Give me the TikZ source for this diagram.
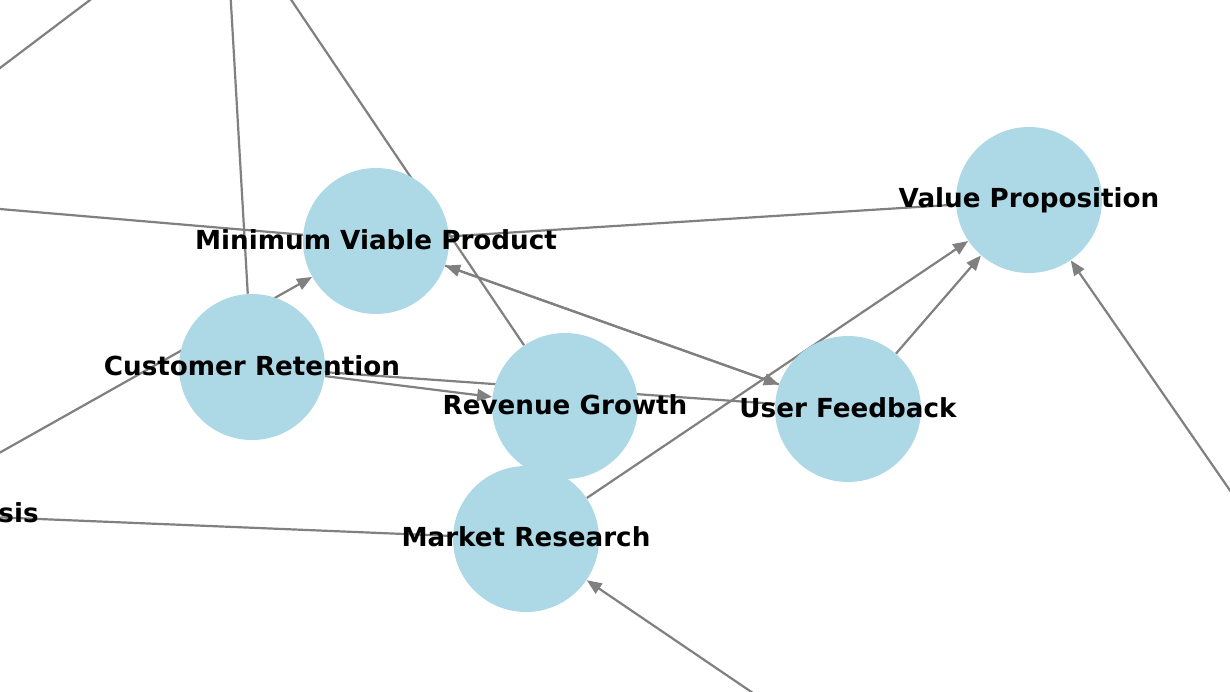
\documentclass[tikz,border=0pt]{standalone}
\usepackage{fontspec}
\setmainfont{DejaVu Sans}
\usetikzlibrary{arrows.meta}
\pgfdeclarelayer{bg}
\pgfdeclarelayer{edges}
\pgfsetlayers{bg,edges,main}
\definecolor{nodeblue}{HTML}{ADD8E6}
\definecolor{edgegray}{HTML}{808080}
\begin{document}
\begin{tikzpicture}[x=0.5pt,y=-0.5pt,
  vertex/.style={circle,fill=nodeblue,draw=none,minimum size=73pt,inner sep=0pt},
  lbl/.style={font=\bfseries\fontsize{13.1pt}{15pt}\selectfont,text=black,inner sep=0pt},
  edge/.style={draw=edgegray,line width=1.1pt},
  arr/.style={edge,-{Triangle[length=7.5pt,width=6pt]}}
]
\path[use as bounding box] (0,0) rectangle (1230,691);
\begin{pgfonlayer}{bg}
\fill[white] (0,0) rectangle (1230,691);
\end{pgfonlayer}

% nodes (circles)
\node[vertex] (mvp) at (376,241) {};
\node[vertex] (vp)  at (1029,200) {};
\node[vertex] (cr)  at (252,367) {};
\node[vertex] (rg)  at (565,406) {};
\node[vertex] (uf)  at (848,409) {};
\node[vertex] (mr)  at (526,539) {};

% off-picture ends
\coordinate (offA1) at (-90,136);
\coordinate (offB1) at (180,-68);
\coordinate (offTop1) at (225,-100);
\coordinate (offTop2) at (209,-122);
\coordinate (offLeft1) at (-200,192);
\coordinate (offLeft2) at (-200,565);
\coordinate (offAnalysis) at (-107,513);
\coordinate (offBottom) at (862,767);
\coordinate (offRight) at (1330,635);

% labels
\node[lbl] (lmvp) at (376,240) {Minimum Viable Product};
\node[lbl] (lvp)  at (1029,200) {Value Proposition};
\node[lbl] (lcr)  at (252,366) {Customer Retention};
\node[lbl] (lrg)  at (565,405) {Revenue Growth};
\node[lbl] (luf)  at (848,408) {User Feedback};
\node[lbl] (lmr)  at (526,537) {Market Research};
\node[lbl,anchor=east] (lsis) at (39,513) {sis};

\begin{pgfonlayer}{edges}
\clip (0,0) rectangle (1230,691);
\draw[edge] (offA1) -- (offB1);
\draw[edge] (cr) -- (offTop1);
\draw[edge] (rg) -- (offTop2);
\draw[edge] (mvp) -- (offLeft1);
\draw[edge] (mvp) -- (vp);
\draw[arr] (offLeft2) -- (mvp);
\draw[arr] (cr) -- (rg);
\draw[edge] (cr) -- (uf);
\draw[arr] (uf) -- (mvp);
\draw[arr] (mvp) -- (uf);
\draw[arr] (uf) -- (vp);
\draw[arr] (mr) -- (vp);
\draw[edge] (offAnalysis) -- (mr);
\draw[arr] (offBottom) -- (mr);
\draw[arr] (offRight) -- (vp);
\end{pgfonlayer}
\end{tikzpicture}
\end{document}
